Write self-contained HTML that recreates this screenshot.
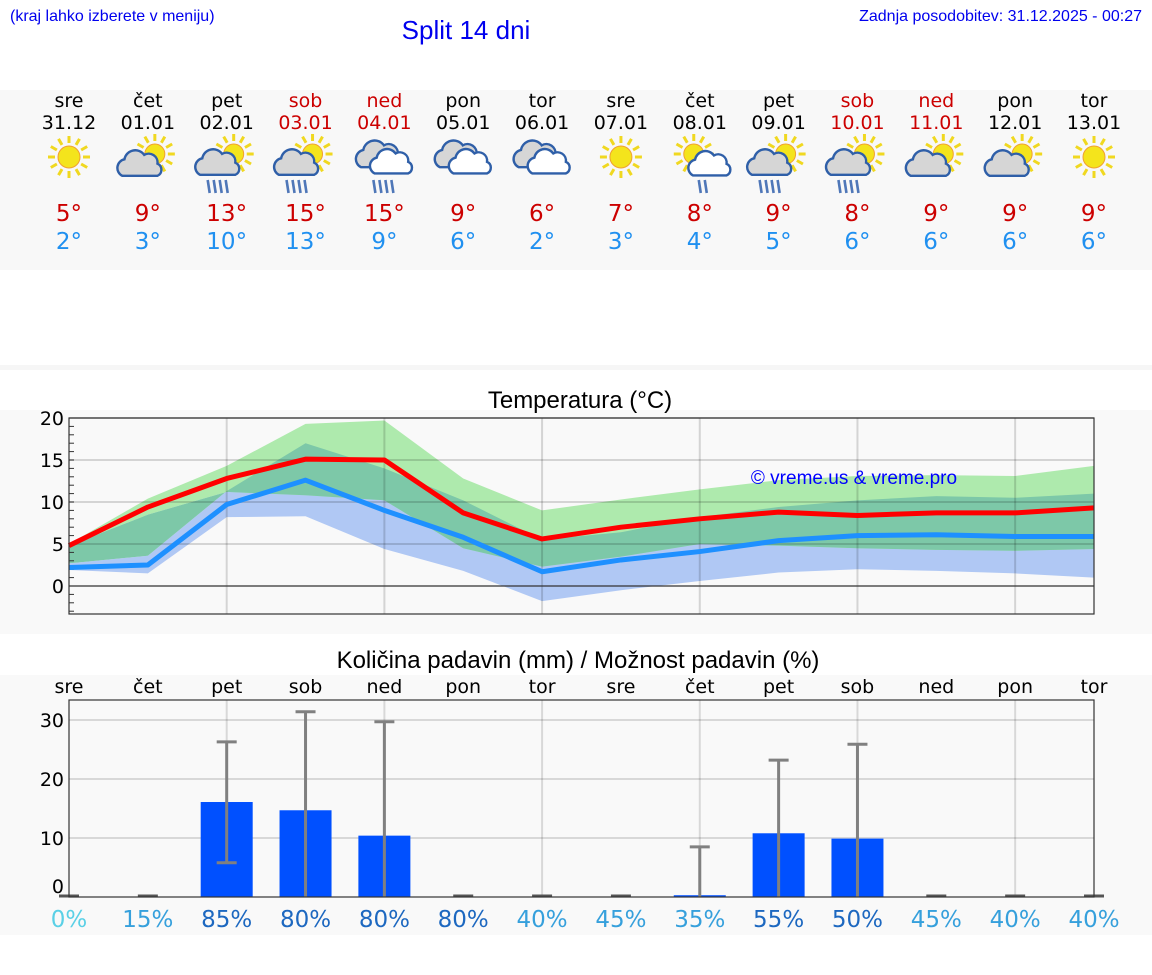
<!DOCTYPE html>
<html><head><meta charset="utf-8"><style>
body{margin:0;width:1152px;height:975px;background:#fff;overflow:hidden;}
svg{display:block}
.ar{font-family:"Liberation Sans",Arial,sans-serif}
.dv{font-family:"DejaVu Sans",sans-serif}
</style></head><body>
<svg id="s" width="1152" height="975" xmlns="http://www.w3.org/2000/svg">
<rect x="0" y="90" width="1152" height="180" fill="#f8f8f8"/>
<rect x="0" y="365" width="1152" height="5" fill="#f6f6f6"/>
<rect x="0" y="410" width="1152" height="224" fill="#f9f9f9"/>
<rect x="0" y="675" width="1152" height="260" fill="#f9f9f9"/>
<text class="ar" x="10" y="21" font-size="16" fill="#0000ee">(kraj lahko izberete v meniju)</text>
<text class="ar" x="466" y="39" font-size="26" fill="#0000ee" text-anchor="middle">Split 14 dni</text>
<text class="ar" x="1142" y="21" font-size="16" fill="#0000ee" text-anchor="end">Zadnja posodobitev: 31.12.2025 - 00:27</text>
<g id="days"></g>
<text class="ar" x="580" y="408" font-size="24" fill="#000" text-anchor="middle">Temperatura (°C)</text>
<g id="temp"></g>
<text class="ar" x="578" y="668" font-size="24" fill="#000" text-anchor="middle">Količina padavin (mm) / Možnost padavin (%)</text>
<g id="precip"></g>
</svg>
<script>
const dayNames=["sre","čet","pet","sob","ned","pon","tor","sre","čet","pet","sob","ned","pon","tor"];
const dates=["31.12","01.01","02.01","03.01","04.01","05.01","06.01","07.01","08.01","09.01","10.01","11.01","12.01","13.01"];
const icons=["sun","suncloud","sunrain","sunrain","cloudrain","clouds","clouds","sun","sunrain2","sunrain","sunrain","suncloud","suncloud","sun"];
const tMax=[4.8,9.4,12.8,15.1,15.0,8.7,5.6,7.0,8.0,8.8,8.4,8.7,8.7,9.3];
const tMin=[2.2,2.5,9.7,12.6,9.0,5.8,1.7,3.1,4.1,5.4,6.0,6.1,5.9,5.9];
const maxHi=[5.0,10.4,14.3,19.3,19.7,12.8,9.0,10.3,11.5,12.6,13.1,13.2,13.1,14.3];
const maxLo=[4.8,8.5,11.2,10.8,10.2,4.5,2.3,3.5,5.0,4.8,4.5,4.3,4.2,4.4];
const minHi=[2.7,3.6,11.3,17.0,14.0,10.2,5.5,6.4,8.2,9.4,10.2,10.7,10.5,11.0];
const minLo=[1.9,1.5,8.2,8.3,4.4,1.8,-1.8,-0.5,0.6,1.6,2.0,1.8,1.5,1.0];
const tTicks=[0,5,10,15,20];
const rain=[0,0,16.1,14.7,10.4,0,0,0,0.3,10.8,9.9,0,0,0];
const rainLo=[0,0,5.8,0,0,0,0,0,0,0,0,0,0,0];
const rainHi=[0,0,26.3,31.4,29.7,0,0,0,8.5,23.2,25.9,0,0,0];
const prob=[0,15,85,80,80,80,40,45,35,55,50,45,40,40];
const pTicks=[0,10,20,30];
const NS="http://www.w3.org/2000/svg";
function mk(tag,attrs,parent,txt){const e=document.createElementNS(NS,tag);for(const k in attrs)e.setAttribute(k,attrs[k]);if(txt!==undefined)e.textContent=txt;parent.appendChild(e);return e;}
const X0=69,X1=1094;
const xd=i=>X0+i*(X1-X0)/13;
const yt=v=>586-v*8.4;
const yp=v=>897-v*5.9;
const gd=document.getElementById('days');
function sun(g,cx,cy,r){for(let a=0;a<12;a++){const t=a*Math.PI/6;mk('line',{x1:cx+Math.cos(t)*(r+3),y1:cy+Math.sin(t)*(r+3),x2:cx+Math.cos(t)*(r+10),y2:cy+Math.sin(t)*(r+10),stroke:'#f0d820','stroke-width':3},g);}mk('circle',{cx:cx,cy:cy,r:r,fill:'#f4e41c',stroke:'#f0a030','stroke-width':1},g);}
function cloud(g,cx,cy,s,fill){const p=`M${cx-16*s},${cy+8*s} a${8*s},${8*s} 0 0 1 ${2*s},${-15*s} a${10*s},${10*s} 0 0 1 ${18*s},${-4*s} a${8*s},${8*s} 0 0 1 ${12*s},${8*s} a${6*s},${6*s} 0 0 1 ${0},${11*s} z`;mk('path',{d:p,fill:fill,stroke:'#2f5fa8','stroke-width':2.4},g);}
function rainL(g,cx,cy,n){for(let k=0;k<n;k++){mk('line',{x1:cx-9+k*6,y1:cy+13,x2:cx-11+k*6,y2:cy,stroke:'#4f77b8','stroke-width':2.6},g);}}
for(let i=0;i<14;i++){const x=xd(i);const we=(i==3||i==4||i==10||i==11);
 const g=mk('g',{},gd);
 
 
 mk('text',{x:x,y:107,'font-size':19,'text-anchor':'middle',fill:we?'#cc0000':'#000',class:'dv'},g,dayNames[i]);
 mk('text',{x:x,y:129,'font-size':19,'text-anchor':'middle',fill:we?'#cc0000':'#000',class:'dv'},g,dates[i]);
 const ic=mk('g',{},g);
 
 
 const t=icons[i];
 if(t=='sun'){sun(ic,x,157,11);}
 else if(t=='suncloud'){sun(ic,x+7,154,10);cloud(ic,x-8,167,1.1,'#d6d6d6');}
 else if(t=='sunrain'){sun(ic,x+7,154,10);cloud(ic,x-9,166,1.1,'#d6d6d6');rainL(ic,x-8,180,4);}
 else if(t=='sunrain2'){sun(ic,x-6,154,10);cloud(ic,x+10,167,1.05,'#fff');rainL(ic,x+10,180,2);}
 else if(t=='cloudrain'){cloud(ic,x-5,158,1.15,'#d6d6d6');cloud(ic,x+7,165,1.05,'#fff');rainL(ic,x,180,4);}
 else {cloud(ic,x-5,158,1.15,'#d6d6d6');cloud(ic,x+7,165,1.05,'#fff');}
 mk('text',{x:x,y:221,'font-size':23,'text-anchor':'middle',fill:'#cc0000',class:'dv'},g,Math.round(tMax[i])+'°');
 mk('text',{x:x,y:249,'font-size':23,'text-anchor':'middle',fill:'#2090f0',class:'dv'},g,Math.round(tMin[i])+'°');
}
const gt=document.getElementById('temp');
mk('rect',{x:X0,y:418,width:X1-X0,height:196,fill:'#f9f9f9'},gt);
function band(hi,lo,fill,name){let d='';for(let i=0;i<14;i++)d+=(i?'L':'M')+xd(i)+','+yt(hi[i]);for(let i=13;i>=0;i--)d+='L'+xd(i)+','+yt(lo[i]);const p=mk('path',{d:d+'Z',fill:fill},gt);}
band(minHi,minLo,'#b0c8f4','min-temp-range');
band(maxHi,maxLo,'#aeeaad','max-temp-range');
band(minHi.map((v,i)=>Math.min(v,maxHi[i])),maxLo.map((v,i)=>Math.max(v,minLo[i])),'#7dc8a8','range-overlap');
for(const v of tTicks){if(v==0)continue;mk('line',{x1:X0,x2:X1,y1:yt(v),y2:yt(v),stroke:'rgba(0,0,0,0.15)','stroke-width':2},gt);}
for(let i=2;i<14;i+=2){mk('line',{x1:xd(i),x2:xd(i),y1:418,y2:614,stroke:'rgba(0,0,0,0.15)','stroke-width':2},gt);}
mk('line',{x1:X0,x2:X1,y1:yt(0),y2:yt(0),stroke:'#333','stroke-width':1.2},gt);
for(let v=-3;v<=20;v++){mk('line',{x1:X0,x2:X0+5,y1:yt(v),y2:yt(v),stroke:'#333','stroke-width':1},gt);}
for(const v of tTicks){const tx=mk('text',{x:64,y:yt(v)+7,'font-size':19,'text-anchor':'end',fill:'#000',class:'dv'},gt,String(v));}
function line(arr,col,name){const p=mk('polyline',{points:arr.map((v,i)=>xd(i)+','+yt(v)).join(' '),fill:'none',stroke:col,'stroke-width':5,'stroke-linejoin':'round'},gt);}
line(tMin,'#1e90ff','min-temp-line');
line(tMax,'#ff0000','max-temp-line');
mk('rect',{x:X0,y:418,width:X1-X0,height:196,fill:'none',stroke:'#333','stroke-width':1.2},gt);
const wm=mk('text',{x:854,y:484,'font-size':19,'text-anchor':'middle',fill:'#0000ff',class:'ar'},gt,'© vreme.us & vreme.pro');


const gp=document.getElementById('precip');
for(let i=0;i<14;i++){const tx=mk('text',{x:xd(i),y:693,'font-size':19,'text-anchor':'middle',fill:'#000',class:'dv'},gp,dayNames[i]);}
for(const v of pTicks){if(v==0)continue;mk('line',{x1:X0,x2:X1,y1:yp(v),y2:yp(v),stroke:'rgba(0,0,0,0.13)','stroke-width':2},gp);}
for(let i=2;i<14;i+=2){mk('line',{x1:xd(i),x2:xd(i),y1:700,y2:897,stroke:'rgba(0,0,0,0.13)','stroke-width':2},gp);}
for(const v of pTicks){const tx=mk('text',{x:64,y:(v==0?yp(v)-4:yp(v)+7),'font-size':19,'text-anchor':'end',fill:'#000',class:'dv'},gp,String(v));}
for(let i=0;i<14;i++){const x=xd(i);
 if(rain[i]>0){const b=mk('rect',{x:x-26,y:yp(rain[i]),width:52,height:yp(0)-yp(rain[i]),fill:'#0050ff'},gp);}
 const e=mk('g',{stroke:'#808080','stroke-width':3},gp);
 
 
 if(rainHi[i]>0){
  mk('line',{x1:x,x2:x,y1:yp(rainHi[i]),y2:yp(rainLo[i])},e);
  mk('line',{x1:x-10,x2:x+10,y1:yp(rainHi[i]),y2:yp(rainHi[i])},e);
  if(rainLo[i]>0)mk('line',{x1:x-10,x2:x+10,y1:yp(rainLo[i]),y2:yp(rainLo[i])},e);
 } else {
  mk('line',{x1:x-10,x2:x+10,y1:yp(0)-1,y2:yp(0)-1,stroke:'#555'},e);
 }
 const c=prob[i]==0?'#5ad0e6':(prob[i]<50?'#36a0dc':'#1d68c0');
 const tx=mk('text',{x:x,y:927,'font-size':23,'text-anchor':'middle',fill:c,class:'dv'},gp,prob[i]+'%');
 
 
}
mk('rect',{x:X0,y:700,width:X1-X0,height:197,fill:'none',stroke:'#333','stroke-width':1.2},gp);
</script>
</body></html>
